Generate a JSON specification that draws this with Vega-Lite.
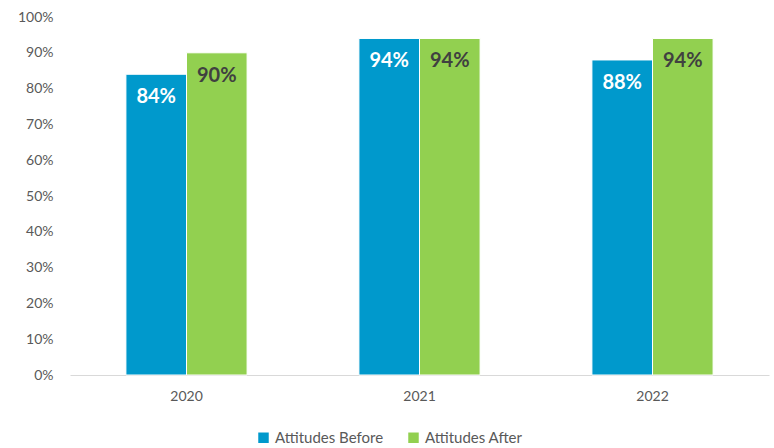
{
  "$schema": "https://vega.github.io/schema/vega-lite/v6.json",
  "width": 699,
  "height": 358,
  "autosize": "none",
  "padding": {"left": 70, "top": 17, "right": 5, "bottom": 73},
  "background": "white",
  "config": {"view": {"stroke": null}, "font": "Lato"},
  "data": {
    "values": [
      {"year": "2020", "series": "Attitudes Before", "value": 0.84},
      {"year": "2020", "series": "Attitudes After", "value": 0.90},
      {"year": "2021", "series": "Attitudes Before", "value": 0.94},
      {"year": "2021", "series": "Attitudes After", "value": 0.94},
      {"year": "2022", "series": "Attitudes Before", "value": 0.88},
      {"year": "2022", "series": "Attitudes After", "value": 0.94}
    ]
  },
  "encoding": {
    "x": {
      "field": "year", "type": "nominal",
      "scale": {"paddingInner": 0.48, "paddingOuter": 0.24},
      "axis": {"title": null, "labelAngle": 0, "ticks": false, "domainColor": "#D9D9D9", "domainWidth": 1, "labelColor": "#595959", "labelFontSize": 14, "labelPadding": 14}
    },
    "xOffset": {"field": "series", "type": "nominal", "sort": ["Attitudes Before", "Attitudes After"], "scale": {"paddingInner": 0}},
    "y": {
      "field": "value", "type": "quantitative",
      "scale": {"domain": [0, 1], "nice": false},
      "axis": {"title": null, "format": ".0%", "values": [0, 0.1, 0.2, 0.3, 0.4, 0.5, 0.6, 0.7, 0.8, 0.9, 1], "grid": false, "domain": false, "ticks": false, "labelColor": "#595959", "labelFontSize": 14, "labelPadding": 17}
    }
  },
  "layer": [
    {
      "mark": {"type": "bar", "stroke": "white", "strokeWidth": 1},
      "encoding": {
        "color": {
          "field": "series", "type": "nominal",
          "sort": ["Attitudes Before", "Attitudes After"],
          "scale": {"domain": ["Attitudes Before", "Attitudes After"], "range": ["#0099CC", "#92D050"]},
          "legend": {"title": null, "orient": "none", "direction": "horizontal", "legendX": 186, "legendY": 413, "symbolType": "square", "symbolSize": 110, "symbolStrokeWidth": 0, "labelFontSize": 15, "labelColor": "#595959", "columnPadding": 22, "labelOffset": 4}
        }
      }
    },
    {
      "mark": {"type": "text", "baseline": "middle", "dy": 23, "fontSize": 20, "fontWeight": "bold"},
      "encoding": {
        "text": {"field": "value", "type": "quantitative", "format": ".0%"},
        "color": {
          "field": "series", "type": "nominal",
          "scale": {"domain": ["Attitudes Before", "Attitudes After"], "range": ["#FFFFFF", "#404040"]},
          "legend": null
        }
      }
    }
  ],
  "resolve": {"scale": {"color": "independent"}}
}
